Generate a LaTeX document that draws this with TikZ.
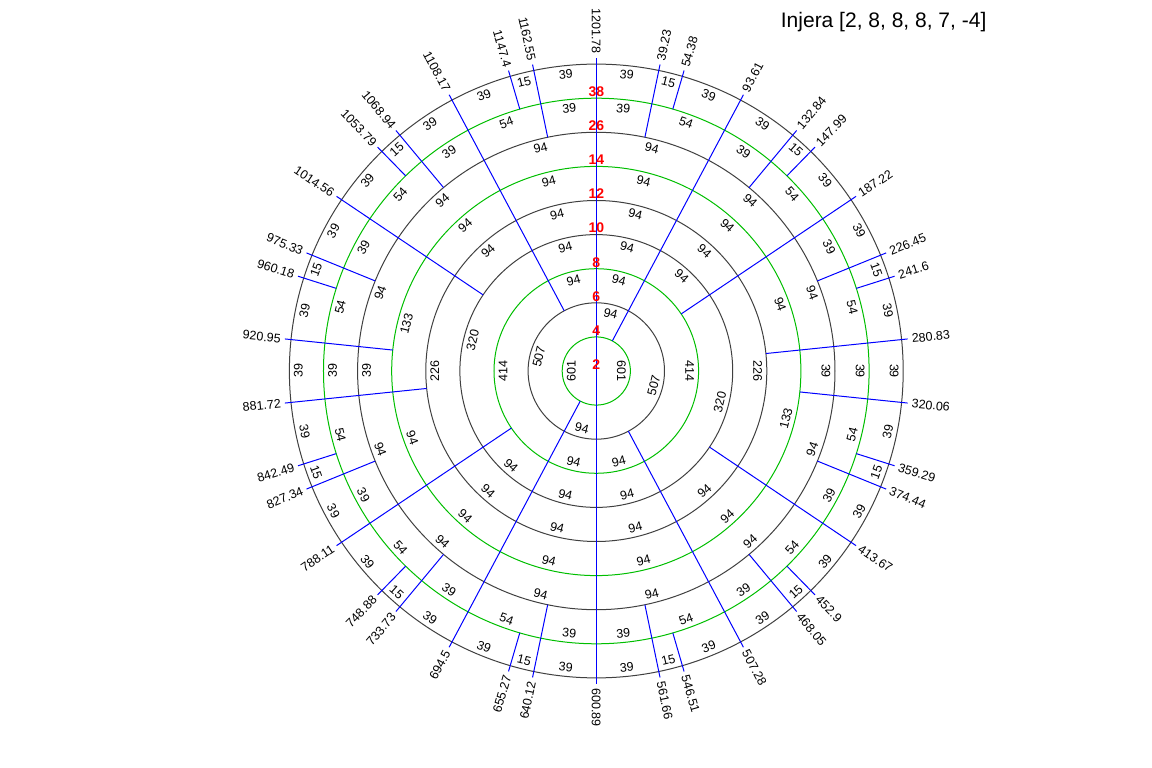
\documentclass[tikz,border=0pt]{standalone}
\usepackage{fontspec}
\setmainfont{Liberation Sans}
\usetikzlibrary{calc}
\definecolor{ringgreen}{RGB}{0,190,0}
\definecolor{ringgray}{RGB}{64,64,64}
\definecolor{cutblue}{RGB}{0,0,255}
\definecolor{countred}{RGB}{255,0,0}

\newcommand{\unitturn}{1201.78}
\newcommand{\ringw}{34.1}
% cut position / ring where the cut starts
\newcommand{\cutlist}{39.23/8, 54.38/9, 93.61/2, 132.84/8, 147.99/9, 187.22/4, 226.45/8, 241.6/9, 280.83/6, 320.06/7, 359.29/9, 374.44/8, 413.67/5, 452.9/9, 468.05/8, 507.28/3, 546.51/9, 561.66/8, 600.89/1, 640.12/8, 655.27/9, 694.5/2, 733.73/8, 748.88/9, 788.11/4, 827.34/8, 842.49/9, 881.72/6, 920.95/7, 960.18/9, 975.33/8, 1014.56/5, 1053.79/9, 1068.94/8, 1108.17/3, 1147.4/9, 1162.55/8, 1201.78/1}

\begin{document}
\begin{tikzpicture}[x=1pt,y=1pt,
  seglabel/.style={font=\fontsize{12.5}{13}\selectfont,inner sep=0pt},
  poslabel/.style={font=\fontsize{12.5}{13}\selectfont,inner sep=1pt},
  countlabel/.style={font=\fontsize{14}{14}\selectfont\bfseries,text=countred,inner sep=0pt},
  cut/.style={cutblue,line width=1pt}]
\useasboundingbox (-596.3,-397) rectangle (555.7,371);

% rings
\foreach \k/\col in {1/ringgreen,2/ringgray,3/ringgreen,4/ringgray,5/ringgray,6/ringgreen,7/ringgray,8/ringgreen,9/ringgray}
  \draw[\col,line width=1pt] (0,0) circle ({\k*\ringw});

% radial cuts with their positions
\foreach \p/\s in \cutlist {
  \pgfmathsetmacro\ta{\p/\unitturn*360}
  \pgfmathsetmacro\rin{(\s-1)*\ringw}
  \draw[cut] (90-\ta:\rin) -- (90-\ta:313) coordinate (cutend);
  \ifdim\ta pt>180pt
    \pgfmathsetmacro\rot{270-\ta}
    \node[poslabel,anchor=east,rotate=\rot] at (90-\ta:316) {\p};
  \else
    \pgfmathsetmacro\rot{90-\ta}
    \node[poslabel,anchor=west,rotate=\rot] at (90-\ta:316) {\p};
  \fi
}

% segment lengths, ring by ring
\foreach \k in {1,...,9}{
  \xdef\prevcut{0}
  \foreach \p/\s in \cutlist {
    \ifnum\s>\k\relax\else
      \pgfmathsetmacro\ta{(\prevcut+\p)/2/\unitturn*360}
      \pgfmathtruncatemacro\seglen{round(\p-\prevcut)}
      \pgfmathsetmacro\rot{(\ta>90)*(\ta<270)*180-\ta}
      \node[seglabel,rotate=\rot] at (90-\ta:{\k*\ringw-9}) {\seglen};
      \xdef\prevcut{\p}
    \fi
  }
}

% segment counts
\foreach \k/\n in {1/2,2/4,3/6,4/8,5/10,6/12,7/14,8/26,9/38}
  \node[countlabel] (count\k) at (0,{(\k-1)*\ringw+6.5}) {\n};

\node[font=\fontsize{21}{21}\selectfont,anchor=base west,inner sep=0pt] (title) at (184.4,343) {Injera [2, 8, 8, 8, 7, -4]};
\end{tikzpicture}
\end{document}
